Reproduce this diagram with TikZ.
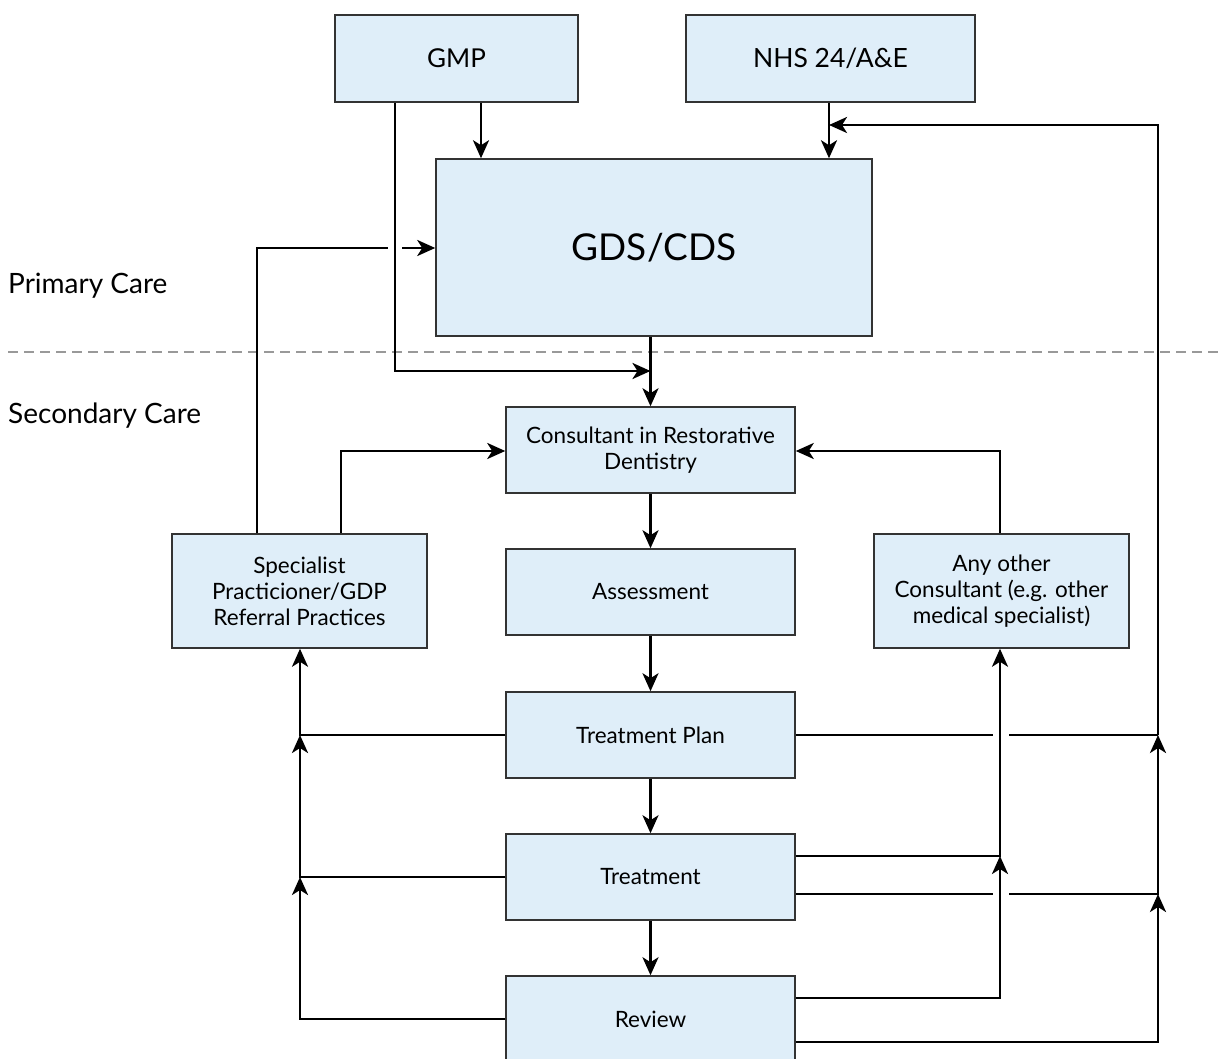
\documentclass[tikz,border=0pt]{standalone}
\usepackage{fontspec}
\setmainfont{Lato}
\usetikzlibrary{arrows.meta}
\definecolor{boxfill}{HTML}{DFEEF9}
\definecolor{boxline}{HTML}{333333}
\tikzset{
  box/.style={draw=boxline, line width=1.5pt, fill=boxfill, align=center, inner sep=0pt, font=\fontsize{22.5}{26}\selectfont},
  conn/.style={line width=2.8pt, black},
  arr/.style={conn, -{Stealth[length=18pt,width=16pt,inset=5pt]}},
  lbl/.style={anchor=west, inner sep=0pt, font=\fontsize{28}{32}\selectfont}
}
\begin{document}
\begin{tikzpicture}[x=1pt,y=-1pt]
\useasboundingbox (0,0) rectangle (1219,1059);
% dashed separator
\draw[color=black!40, line width=2pt, dash pattern=on 10pt off 6pt] (8,352) -- (1219,352);
\node[lbl] (pc) at (8,286) {Primary Care};
\node[lbl] (sc) at (8,416) {Secondary Care};
% boxes
\node[box, minimum width=243pt, minimum height=87pt, font=\fontsize{26}{30}\selectfont] (gmp) at (456.5,58.5) {GMP};
\node[box, minimum width=289pt, minimum height=87pt, font=\fontsize{26.5}{30}\selectfont] (nhs) at (830.5,58.5) {NHS 24/A\&E};
\node[box, minimum width=436pt, minimum height=177pt, font=\fontsize{37}{42}\selectfont] (gds) at (654,247.5) {GDS/CDS};
\node[box, minimum width=289pt, minimum height=86pt] (cons) at (650.5,450) {Consultant in Restorative\\Dentistry};
\node[box, minimum width=289pt, minimum height=86pt] (ass) at (650.5,592) {Assessment};
\node[box, minimum width=289pt, minimum height=86pt] (tp) at (650.5,735) {Treatment Plan};
\node[box, minimum width=289pt, minimum height=86pt] (tr) at (650.5,877) {Treatment};
\node[box, minimum width=289pt, minimum height=86pt] (rev) at (650.5,1019) {Review};
\node[box, minimum width=255pt, minimum height=114pt] (spec) at (299.5,591) {Specialist\\Practicioner/GDP\\Referral Practices};
\node[box, minimum width=255pt, minimum height=114pt] (oth) at (1001.5,591) {Any other\\Consultant (e.g. other\\medical specialist)};
% helper coordinates
\coordinate (xA) at (481,0);
\coordinate (xB) at (829,0);
\coordinate (xC) at (395,0);
\coordinate (xD) at (257,0);
\coordinate (xE) at (341,0);
\coordinate (xF) at (1000,0);
\coordinate (xG) at (1158,0);
\coordinate (xH) at (300,0);
\coordinate (xM) at (650.5,0);
\coordinate (y125) at (0,125);
\coordinate (y248) at (0,248);
\coordinate (y371) at (0,371);
\coordinate (y451) at (0,451);
\coordinate (y856) at (0,856);
\coordinate (y894) at (0,894);
\coordinate (y998) at (0,998);
\coordinate (y1042) at (0,1042);
\coordinate (gapL) at (993,0);
\coordinate (gapR) at (1009,0);
\coordinate (gapL2) at (388,0);
\coordinate (gapR2) at (402,0);
% top arrows
\draw[arr] (gmp.south -| xA) -- (gds.north -| xA);
\draw[arr] (nhs.south -| xB) -- (gds.north -| xB);
\draw[arr] (xG |- tp.east) -- (xG |- y125) -- (xB |- y125);
% GMP to consultant
\draw[arr] (gmp.south -| xC) -- (xC |- y371) -- (xM |- y371);
\draw[arr] (gds.south -| xM) -- (cons.north);
% specialist to GDS (with gap)
\draw[conn] (spec.north -| xD) -- (xD |- y248) -- (gapL2 |- y248);
\draw[arr] (gapR2 |- y248) -- (gds.west |- y248);
% specialist to consultant
\draw[arr] (spec.north -| xE) -- (xE |- y451) -- (cons.west |- y451);
% other to consultant
\draw[arr] (oth.north -| xF) -- (xF |- y451) -- (cons.east |- y451);
% main chain
\draw[arr] (cons) -- (ass);
\draw[arr] (ass) -- (tp);
\draw[arr] (tp) -- (tr);
\draw[arr] (tr) -- (rev);
% left side
\draw[arr] (tp.west) -- (xH |- tp.west) -- (spec.south -| xH);
\draw[arr] (tr.west) -- (xH |- tr.west) -- (xH |- tp.west);
\draw[arr] (rev.west) -- (xH |- rev.west) -- (xH |- tr.west);
% right side
\draw[conn] (tp.east) -- (gapL |- tp.east);
\draw[conn] (gapR |- tp.east) -- (xG |- tp.east);
\draw[arr] (tr.east |- y856) -- (xF |- y856) -- (oth.south -| xF);
\draw[conn] (tr.east |- y894) -- (gapL |- y894);
\draw[arr] (gapR |- y894) -- (xG |- y894) -- (xG |- tp.east);
\draw[arr] (rev.east |- y998) -- (xF |- y998) -- (xF |- y856);
\draw[arr] (rev.east |- y1042) -- (xG |- y1042) -- (xG |- y894);
\end{tikzpicture}
\end{document}
